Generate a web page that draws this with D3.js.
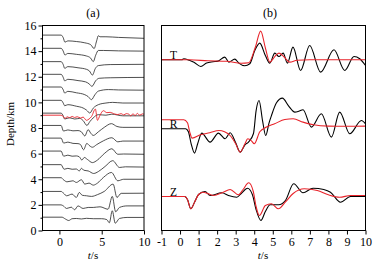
<!DOCTYPE html>
<html><head><meta charset="utf-8">
<script src="https://cdn.jsdelivr.net/npm/d3@7"></script>
<style>
body{margin:0;background:#fff}
svg{display:block}
text{font-family:"Liberation Serif","Times New Roman",serif;fill:#000}
</style>
</head><body>
<svg id="c" width="382" height="267"></svg>
<script>
// ---------- Panel (a): waveforms vs depth ----------
const depthTicks = [0,2,4,6,8,10,12,14,16];
const depthMinorTicks = [1,3,5,7,9,11,13,15];
const timeTicksA = [0,5,10];
const traceDepths = [1,2,3,4,5,6,7,8,9,10,11,12,13,14,15];
// each trace: [t (s), displacement relative to its depth (km)]
const depthTraces = [
 [[-2,0.04],[0.3,0.04],[0.7,-0.1],[1.1,-0.22],[1.5,-0.08],[2.0,-0.06],[2.6,-0.1],[3.2,-0.05],[4.0,-0.08],[5.0,-0.08],[5.6,-0.15],[5.9,-0.4],[6.25,0.54],[6.6,-0.43],[7.1,-0.06],[8,0.02],[10,0.02]],
 [[-2,0],[0.2,0],[0.5,-0.1],[0.85,-0.28],[1.4,-0.18],[1.8,-0.38],[2.2,-0.08],[2.8,-0.28],[3.4,-0.2],[4.0,-0.2],[4.8,-0.15],[5.75,-0.34],[6.25,0.66],[6.65,-0.54],[7.1,-0.2],[8,-0.08],[10,-0.08]],
 [[-2,0.05],[0.2,0.05],[0.5,-0.1],[0.85,-0.29],[1.5,-0.16],[2.0,-0.42],[2.35,-0.03],[2.7,-0.25],[3.2,-0.29],[3.8,-0.34],[4.5,-0.2],[5.3,0.05],[6.35,0.62],[6.8,-0.42],[7.3,-0.1],[10,-0.09]],
 [[-2,0.12],[0.2,0.12],[0.5,-0.05],[0.9,-0.2],[1.6,-0.12],[2.0,-0.25],[2.6,-0.04],[3.0,-0.38],[3.5,-0.3],[4.0,-0.46],[4.5,-0.3],[5.2,0.14],[6.15,0.53],[6.9,-0.12],[7.6,0.0],[10,0]],
 [[-2,0.14],[0.2,0.14],[0.55,-0.22],[1.0,-0.15],[1.5,-0.22],[2.0,-0.2],[2.35,-0.35],[2.6,-0.15],[2.9,-0.3],[3.4,-0.35],[4.05,-0.55],[4.6,-0.4],[5.4,0.0],[6.3,0.45],[7.1,-0.08],[7.8,-0.03],[10,-0.05]],
 [[-2,0.2],[0.2,0.2],[0.5,-0.2],[1.0,-0.12],[1.5,-0.2],[2.0,-0.18],[2.35,-0.25],[2.65,-0.5],[2.95,-0.3],[3.3,-0.45],[3.9,-0.7],[4.5,-0.5],[5.3,0.0],[6.2,0.38],[6.9,-0.05],[7.6,-0.03],[10,-0.05]],
 [[-2,0.21],[0.2,0.21],[0.5,-0.18],[1.0,-0.1],[1.6,-0.2],[2.2,-0.22],[2.5,-0.3],[2.85,-0.7],[3.25,-0.2],[3.5,-0.35],[3.9,-0.5],[4.4,-0.3],[5.2,0.0],[6.2,0.24],[6.9,-0.08],[7.5,-0.02],[10,-0.02]],
 [[-2,0.2],[0.2,0.2],[0.48,-0.24],[1.0,-0.15],[1.6,-0.22],[2.2,-0.2],[2.6,-0.3],[3.0,-0.62],[3.4,-0.13],[3.7,-0.4],[4.0,-0.58],[4.6,-0.3],[5.3,0.05],[6.15,0.34],[6.8,0.12],[7.5,0.05],[10,0.05]],
 [[-2,0.16],[0.2,0.16],[0.45,-0.05],[0.62,-0.3],[1.2,-0.2],[1.8,-0.3],[2.4,-0.25],[2.8,-0.42],[3.25,-0.8],[3.6,-0.5],[3.98,-0.22],[4.6,0.04],[5.5,0.0],[6.2,0.08],[7.5,-0.05],[10,-0.05]],
 [[-2,0.16],[0.2,0.16],[0.45,-0.05],[0.62,-0.26],[1.0,-0.18],[2.0,-0.3],[2.8,-0.44],[3.2,-0.6],[3.59,-0.83],[4.0,-0.45],[4.6,-0.18],[5.5,-0.05],[6.3,0.0],[7.5,-0.05],[10,-0.05]],
 [[-2,0.2],[0.2,0.2],[0.45,-0.02],[0.62,-0.27],[1.0,-0.14],[2.0,-0.25],[3.0,-0.4],[3.4,-0.55],[3.78,-0.79],[4.2,-0.4],[4.6,-0.12],[5.8,0.0],[7,-0.03],[10,-0.05]],
 [[-2,0.19],[0.2,0.19],[0.45,-0.05],[0.62,-0.32],[1.0,-0.2],[2.2,-0.3],[3.1,-0.4],[3.5,-0.55],[3.85,-0.75],[4.3,-0.3],[4.7,-0.12],[6,-0.08],[10,-0.05]],
 [[-2,0.18],[0.2,0.18],[0.45,-0.05],[0.62,-0.34],[1.0,-0.21],[2.2,-0.3],[3.2,-0.42],[3.55,-0.55],[3.9,-0.87],[4.25,-0.35],[4.6,-0.13],[6,-0.05],[10,-0.03]],
 [[-2,0.22],[0.2,0.22],[0.45,0.0],[0.65,-0.3],[1.0,-0.18],[2.0,-0.25],[3.2,-0.38],[3.7,-0.55],[4.0,-0.82],[4.3,-0.3],[4.6,0.05],[5.2,0.05],[7,0.02],[10,0]],
 [[-2,0.25],[0.2,0.25],[0.45,0.05],[0.65,-0.3],[1.0,-0.2],[2.0,-0.25],[3.0,-0.35],[3.7,-0.5],[4.1,-0.8],[4.4,-0.2],[4.6,0.2],[4.8,0.12],[5.5,0.12],[7,0.07],[10,0]]
];
const redTraceDepth = 9;
const redTraceA = [[-2,0],[0.2,0],[0.45,-0.1],[0.67,-0.26],[0.9,-0.12],[1.2,-0.2],[1.5,-0.1],[1.8,-0.18],[2.1,-0.12],[2.5,-0.22],[2.8,-0.15],[3.2,-0.4],[3.5,-0.3],[3.8,-0.1],[4.25,0.48],[4.5,-0.4],[4.8,0.0],[5.2,0.35],[5.6,0.2],[6.0,0.22],[6.5,0.1],[6.9,0.05],[7.3,0.12],[7.6,0.02],[7.9,0.12],[8.2,0.08],[8.45,-0.05],[8.7,0.12],[8.95,-0.04],[9.2,0.14],[9.5,0.0],[9.8,0.1],[10,0.08]];

// ---------- Panel (b): T, R, Z components ----------
const timeTicksB = [-1,0,1,2,3,4,5,6,7,8,9,10];
const components = ["T","R","Z"];
const componentOffsets = [17.07, 10.17, 3.4];
const blackT = [[-1,0],[0.1,0],[0.2,0.1],[0.5,-0.05],[0.75,-0.25],[1.12,-0.67],[1.43,-0.33],[1.78,-0.2],[2.05,-0.13],[2.41,0.27],[2.63,-0.23],[2.95,0.07],[3.17,-0.33],[3.49,-0.6],[3.76,-0.4],[4.03,0.93],[4.3,1.67],[4.6,0.43],[4.84,-0.33],[5.11,0.67],[5.33,0.33],[5.56,0.67],[5.79,-0.33],[6.09,1.27],[6.5,-1.07],[6.99,1.43],[7.58,-1.23],[8.3,1.0],[8.88,-1.07],[9.38,0.33],[9.69,0.1],[10,-0.57]];
const redT = [[-1,0],[0.5,0],[1.5,-0.1],[2.5,-0.15],[3.3,-0.35],[3.7,-0.3],[4.05,1.2],[4.35,2.87],[4.6,1.2],[4.84,-0.23],[5.1,0.3],[5.33,0.67],[5.6,0.3],[5.92,-0.23],[6.3,-0.05],[7,0],[10,0]];
const blackR = [[-1,0],[0.3,0],[0.45,-0.3],[0.6,-1.5],[0.78,-2.43],[0.95,-1.5],[1.17,-0.43],[1.62,-1.33],[2.07,-0.43],[2.43,-1.0],[2.7,-0.4],[3.0,-1.4],[3.24,-2.33],[3.5,-1.6],[3.69,-1.33],[3.96,-0.47],[4.1,1.8],[4.26,2.83],[4.45,0.8],[4.62,-0.67],[4.8,0.6],[4.93,1.33],[5.2,2.6],[5.52,3.07],[5.85,2.3],[6.19,1.67],[6.4,1.75],[6.63,1.9],[7.08,0.17],[7.62,1.5],[8.16,-0.83],[8.61,1.67],[9.15,-0.5],[9.78,0.83],[10,0.5]];
const redR = [[-1,0.9],[0.2,0.9],[0.4,0.6],[0.52,-0.3],[0.65,-0.93],[1.1,-0.6],[1.6,-0.4],[2.1,-0.17],[2.4,-0.3],[2.7,-0.67],[3.0,-1.5],[3.24,-2.33],[3.5,-1.5],[3.65,-1.0],[3.85,-1.2],[4.0,-1.5],[4.3,-0.3],[4.66,0.17],[5.1,0.5],[5.65,0.93],[6.1,1.0],[6.63,0.67],[7.2,0.4],[8.0,0.27],[9,0.25],[10,0.27]];
const blackZ = [[-1,0],[0.25,0],[0.4,-0.3],[0.58,-1.23],[0.8,-0.5],[1.0,0.2],[1.35,0.5],[1.62,0.1],[2.25,0.37],[2.61,0.1],[3.06,-0.07],[3.3,0.3],[3.64,0.83],[3.9,0.2],[4.1,-1.3],[4.36,-2.4],[4.6,-1.5],[4.86,-0.83],[5.32,-0.83],[5.68,-0.4],[6.13,1.27],[6.63,0.37],[7.17,0.83],[7.75,0.7],[8.11,0.43],[8.65,-0.57],[9.19,0],[10,0]];
const redZ = [[-1,0],[0.25,0],[0.4,-0.3],[0.58,-1.23],[0.8,-0.5],[1.0,0.2],[1.26,0.43],[1.8,0.1],[2.3,0.4],[2.7,0.7],[3.15,0.17],[3.4,0.7],[3.7,1.37],[3.95,0.5],[4.1,-1.0],[4.28,-1.9],[4.6,-0.9],[4.93,-0.73],[5.3,-1.23],[5.7,-0.5],[6.1,0.3],[6.7,0.77],[7.4,0.6],[8.0,0.17],[8.6,-0.07],[9.2,0.1],[10,0.1]];
const blackComps = [blackT, blackR, blackZ];
const redComps = [redT, redR, redZ];

const RED = "#e8232a";
const svg = d3.select("#c");
const plotTop = 25.5, plotBottom = 230.5;

// ----- panel a -----
const xA = d3.scaleLinear().domain([-2,10]).range([42.5,144]);
const yA = d3.scaleLinear().domain([0,16]).range([plotBottom, plotTop]);
const gA = svg.append("g");
const lineA = off => d3.line().x(d=>xA(d[0])).y(d=>yA(off + d[1])).curve(d3.curveMonotoneX);
traceDepths.forEach((dep,i)=>{
  gA.append("path").attr("d", lineA(dep)(depthTraces[i]))
    .attr("fill","none").attr("stroke","#222").attr("stroke-width",0.8);
});
gA.append("path").attr("d", lineA(redTraceDepth)(redTraceA))
  .attr("fill","none").attr("stroke",RED).attr("stroke-width",0.9);

gA.append("rect").attr("x",42.5).attr("y",plotTop).attr("width",144-42.5).attr("height",plotBottom-plotTop)
  .attr("fill","none").attr("stroke","#000").attr("stroke-width",1);

const axYA = gA.append("g").attr("transform","translate(42.5,0)")
  .call(d3.axisLeft(yA).tickValues(depthTicks).tickSize(4).tickPadding(2));
const axYAm = gA.append("g").attr("transform","translate(42.5,0)")
  .call(d3.axisLeft(yA).tickValues(depthMinorTicks).tickSize(2).tickFormat(""));
const axXA = gA.append("g").attr("transform",`translate(0,${plotBottom})`)
  .call(d3.axisBottom(xA).tickValues(timeTicksA).tickSize(4).tickPadding(3).tickFormat(d=>String(d)));
[axYA,axYAm,axXA].forEach(a=>{a.select(".domain").remove(); a.selectAll("line").attr("stroke","#000");
  a.selectAll("text").style("font-family",'"Liberation Serif",serif').style("font-size","12px").attr("fill","#000");});

gA.append("text").attr("x",93).attr("y",17).attr("text-anchor","middle").style("font-size","12px").text("(a)");
gA.append("text").attr("transform","translate(14,124) rotate(-90)").attr("text-anchor","middle").style("font-size","11px").text("Depth/km");
const tsA = gA.append("text").attr("x",93).attr("y",259).attr("text-anchor","middle").style("font-size","11px");
tsA.append("tspan").style("font-style","italic").text("t");
tsA.append("tspan").text("/s");

// ----- panel b -----
const xB = d3.scaleLinear().domain([-1,10]).range([161.5,365.5]);
const yB = d3.scaleLinear().domain([0,20.5]).range([plotBottom, plotTop]);
const gB = svg.append("g");
const lineB = off => d3.line().x(d=>xB(d[0])).y(d=>yB(off + d[1])).curve(d3.curveMonotoneX);
components.forEach((c,i)=>{
  gB.append("path").attr("d", lineB(componentOffsets[i])(blackComps[i]))
    .attr("fill","none").attr("stroke","#000").attr("stroke-width",1.1);
  gB.append("path").attr("d", lineB(componentOffsets[i])(redComps[i]))
    .attr("fill","none").attr("stroke",RED).attr("stroke-width",1.1);
  gB.append("text").attr("x",xB(-0.35)).attr("y",yB(componentOffsets[i])-0.5)
    .attr("text-anchor","middle").style("font-size","11.5px").text(c);
});
gB.append("rect").attr("x",161.5).attr("y",plotTop).attr("width",365.5-161.5).attr("height",plotBottom-plotTop)
  .attr("fill","none").attr("stroke","#000").attr("stroke-width",1);
const axXB = gB.append("g").attr("transform",`translate(0,${plotBottom})`)
  .call(d3.axisBottom(xB).tickValues(timeTicksB).tickSize(4).tickPadding(3).tickFormat(d=>String(d)));
axXB.select(".domain").remove(); axXB.selectAll("line").attr("stroke","#000");
axXB.selectAll("text").style("font-family",'"Liberation Serif",serif').style("font-size","12px").attr("fill","#000");

gB.append("text").attr("x",270).attr("y",17).attr("text-anchor","middle").style("font-size","12px").text("(b)");
const tsB = gB.append("text").attr("x",263).attr("y",259).attr("text-anchor","middle").style("font-size","11px");
tsB.append("tspan").style("font-style","italic").text("t");
tsB.append("tspan").text("/s");
</script>
</body></html>
